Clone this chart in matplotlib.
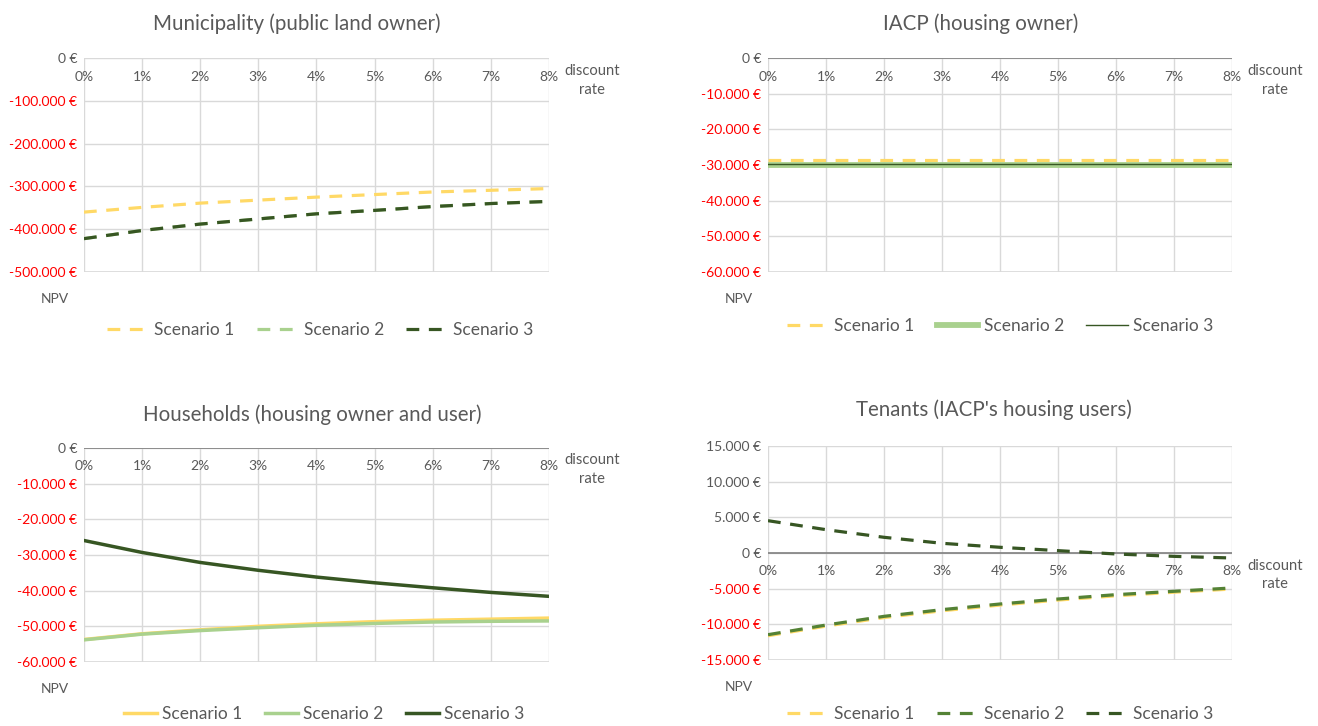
import matplotlib.pyplot as plt
import matplotlib.ticker as mticker

plt.rcParams['font.family'] = ['Lato', 'DejaVu Sans']

rates = [0, 1, 2, 3, 4, 5, 6, 7, 8]
rate_labels = ['0%', '1%', '2%', '3%', '4%', '5%', '6%', '7%', '8%']
scenarios = ['Scenario 1', 'Scenario 2', 'Scenario 3']

# Municipality (public land owner)
muni_s1 = [-360000, -349000, -339000, -332000, -325000, -319000, -313000, -309000, -305000]
muni_s2 = [-422000, -403000, -388000, -376000, -364000, -356000, -347000, -340000, -335000]
muni_s3 = [-422000, -403000, -388000, -376000, -364000, -356000, -347000, -340000, -335000]

# IACP (housing owner)
iacp_s1 = [-28700] * 9
iacp_s2 = [-29900] * 9
iacp_s3 = [-29800] * 9

# Households (housing owner and user)
hh_s1 = [-53700, -52100, -51000, -50000, -49300, -48700, -48300, -48000, -47700]
hh_s2 = [-53800, -52200, -51200, -50400, -49700, -49200, -48800, -48600, -48500]
hh_s3 = [-25950, -29300, -32100, -34300, -36200, -37800, -39200, -40500, -41600]

# Tenants (IACP's housing users)
ten_s1 = [-11600, -10250, -9050, -8100, -7300, -6600, -6000, -5500, -5050]
ten_s2 = [-11450, -10100, -8880, -7940, -7150, -6450, -5840, -5370, -4900]
ten_s3 = [4530, 3270, 2200, 1360, 800, 330, -140, -470, -700]

YELLOW = '#FFD966'
LGREEN = '#A9D18E'
GREEN = '#548235'
DGREEN = '#375623'
GRID = '#D9D9D9'
TXT = '#595959'

fig = plt.figure(figsize=(13.18, 7.26), dpi=100)


def euro(v, pos=None):
    s = f'{abs(int(v)):,}'.replace(',', '.')
    return ('-' if v < 0 else '') + s + ' €'


def setup(ax, ymin, ymax, step, zero_line):
    ax.set_xlim(0, 8)
    ax.set_ylim(ymin, ymax)
    ax.set_yticks(range(ymin, ymax + 1, step))
    ax.yaxis.set_major_formatter(mticker.FuncFormatter(euro))
    for lab, v in zip(ax.get_yticklabels(), range(ymin, ymax + 1, step)):
        lab.set_color('#FF0000' if v < 0 else TXT)
    ax.tick_params(axis='y', length=0, labelsize=10, pad=5)
    ax.set_xticks(rates)
    ax.tick_params(axis='x', length=0, labelbottom=False)
    ax.grid(True, color=GRID, lw=1)
    ax.set_axisbelow(True)
    for sp in ax.spines.values():
        sp.set_visible(False)
    ax.axhline(ymin, color=GRID, lw=1.2, zorder=1)
    if zero_line:
        ax.axhline(0, color='#808080', lw=1.2, zorder=2)
    for x, lab in zip(rates, rate_labels):
        ax.annotate(lab, (x, 0), xytext=(0, -9), textcoords='offset points',
                    ha='center', va='top', fontsize=10, color=TXT)
    ax.annotate('discount\nrate', (8, 0), xytext=(31, -4), textcoords='offset points',
                ha='center', va='top', fontsize=10.6, color=TXT, linespacing=1.45)
    ax.annotate('NPV', (0, ymin), xytext=(-21, -15), textcoords='offset points',
                ha='center', va='top', fontsize=10, color=TXT)


dash = (0, (4, 3))
leg_kw = dict(loc='center', ncol=3, frameon=False, fontsize=12.5, columnspacing=1.3,
              handletextpad=0.3, labelcolor=TXT)

# top-left
ax1 = fig.add_axes([0.0637, 0.6253, 0.3528, 0.2948])
setup(ax1, -500000, 0, 100000, False)
ax1.plot(rates, muni_s1, color=YELLOW, lw=2.3, ls=dash, label=scenarios[0])
ax1.plot(rates, muni_s2, color=LGREEN, lw=2.3, ls=dash, label=scenarios[1])
ax1.plot(rates, muni_s3, color=DGREEN, lw=2.3, ls=dash, label=scenarios[2])
fig.text(0.225, 0.968, 'Municipality (public land owner)', ha='center', va='center', fontsize=14.8, color=TXT)
fig.legend(*ax1.get_legend_handles_labels(), bbox_to_anchor=(0.243, 0.545), handlelength=2.4, **leg_kw)

# top-right
ax2 = fig.add_axes([0.5827, 0.6253, 0.352, 0.2948])
setup(ax2, -60000, 0, 10000, True)
ax2.plot(rates, iacp_s1, color=YELLOW, lw=2.3, ls=dash, label=scenarios[0])
ax2.plot(rates, iacp_s2, color=LGREEN, lw=4.2, label=scenarios[1])
ax2.plot(rates, iacp_s3, color=DGREEN, lw=1.0, label=scenarios[2])
fig.text(0.744, 0.968, 'IACP (housing owner)', ha='center', va='center', fontsize=14.8, color=TXT)
fig.legend(*ax2.get_legend_handles_labels(), bbox_to_anchor=(0.759, 0.551), handlelength=2.4, **leg_kw)

# bottom-left
ax3 = fig.add_axes([0.0637, 0.0882, 0.3528, 0.2948])
setup(ax3, -60000, 0, 10000, True)
ax3.plot(rates, hh_s1, color=YELLOW, lw=2.5, label=scenarios[0])
ax3.plot(rates, hh_s2, color=LGREEN, lw=2.5, label=scenarios[1])
ax3.plot(rates, hh_s3, color=DGREEN, lw=2.5, label=scenarios[2])
fig.text(0.237, 0.429, 'Households (housing owner and user)', ha='center', va='center', fontsize=14.8, color=TXT)
fig.legend(*ax3.get_legend_handles_labels(), bbox_to_anchor=(0.246, 0.016), handlelength=1.9, **leg_kw)

# bottom-right
ax4 = fig.add_axes([0.5827, 0.0909, 0.352, 0.2948])
setup(ax4, -15000, 15000, 5000, True)
ax4.plot(rates, ten_s1, color=YELLOW, lw=2.3, ls=dash, label=scenarios[0])
ax4.plot(rates, ten_s2, color=GREEN, lw=2.3, ls=dash, label=scenarios[1])
ax4.plot(rates, ten_s3, color=DGREEN, lw=2.3, ls=dash, label=scenarios[2])
fig.text(0.754, 0.435, "Tenants (IACP's housing users)", ha='center', va='center', fontsize=14.8, color=TXT)
fig.legend(*ax4.get_legend_handles_labels(), bbox_to_anchor=(0.759, 0.016), handlelength=2.4, **leg_kw)

fig.savefig('out.png', dpi=100)
